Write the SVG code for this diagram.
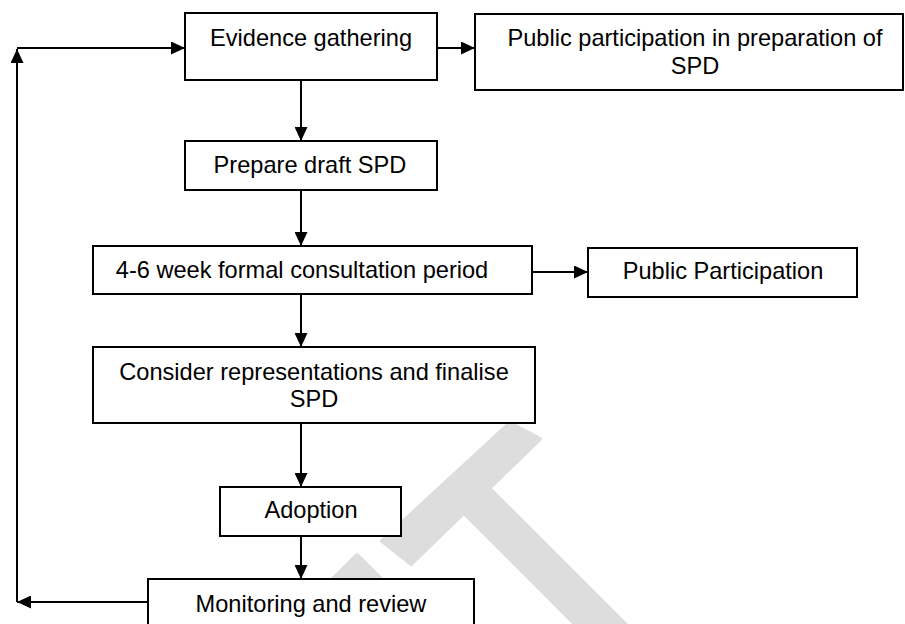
<svg xmlns="http://www.w3.org/2000/svg" width="905" height="624" viewBox="0 0 905 624">
<style>
.box{fill:#fff;stroke:#000;stroke-width:2}
.lbl{font-family:"Liberation Sans",Arial,sans-serif;font-size:23.6px;fill:#000;text-anchor:middle}
.con{fill:none;stroke:#000;stroke-width:2;marker-end:url(#ah)}
.wm{fill:#dddddd;stroke:#dddddd;stroke-width:4;stroke-linejoin:round}
</style>
<defs>
<marker id="ah" viewBox="0 0 14 13" refX="14" refY="6.5" markerWidth="14" markerHeight="13" markerUnits="userSpaceOnUse" orient="auto">
<path d="M0,0 L14,6.5 L0,13 Z" fill="#000"/>
</marker>
</defs>
<rect width="905" height="624" fill="#fff"/>
<g id="watermark">
<polygon class="wm" points="357,555 392,590 330,652 295,617"/>
<polygon class="wm" points="382,541 510,423 540,439 411,564"/>
<polygon class="wm" points="475,474 651,650 601,650 450,499"/>
</g>
<g id="connectors">
<path class="con" d="M17,48 H185"/>
<path class="con" d="M437,48 H475"/>
<path class="con" d="M301,80 V141"/>
<path class="con" d="M301,190 V246"/>
<path class="con" d="M301,294 V347"/>
<path class="con" d="M532,272 H588"/>
<path class="con" d="M301,423 V487"/>
<path class="con" d="M301,536 V579"/>
<path class="con" d="M148,602 H17"/>
<path class="con" d="M17,602 V49"/>
</g>
<g id="evidence">
<rect class="box" x="185" y="13" width="252" height="67"/>
<text class="lbl" x="311" y="46">Evidence gathering</text>
</g>
<g id="public-prep">
<rect class="box" x="475" y="14" width="428" height="76"/>
<text class="lbl" x="695" y="46">Public participation in preparation of</text>
<text class="lbl" x="695" y="74">SPD</text>
</g>
<g id="prepare">
<rect class="box" x="185" y="141" width="252" height="49"/>
<text class="lbl" x="310" y="173">Prepare draft SPD</text>
</g>
<g id="consultation">
<rect class="box" x="93" y="246" width="439" height="48"/>
<text class="lbl" x="302" y="278">4-6 week formal consultation period</text>
</g>
<g id="public-participation">
<rect class="box" x="588" y="248" width="269" height="49"/>
<text class="lbl" x="723" y="279">Public Participation</text>
</g>
<g id="consider">
<rect class="box" x="93" y="347" width="442" height="76"/>
<text class="lbl" x="314" y="380">Consider representations and finalise</text>
<text class="lbl" x="314" y="407">SPD</text>
</g>
<g id="adoption">
<rect class="box" x="220" y="487" width="181" height="49"/>
<text class="lbl" x="311" y="518">Adoption</text>
</g>
<g id="monitoring">
<rect class="box" x="148" y="579" width="326" height="70"/>
<text class="lbl" x="311" y="612">Monitoring and review</text>
</g>
</svg>
